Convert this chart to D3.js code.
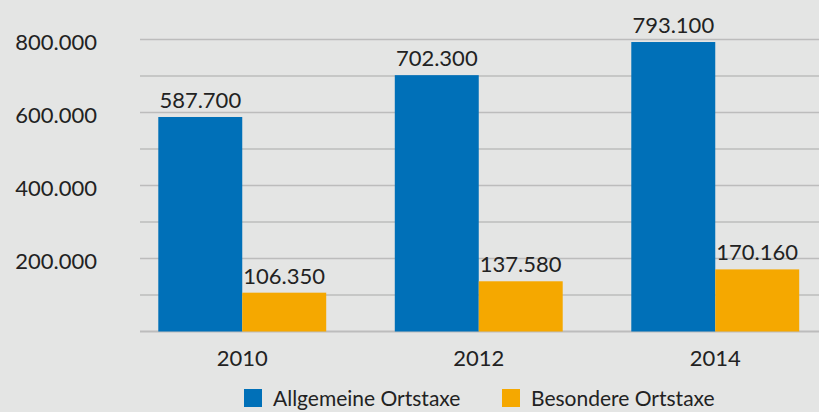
<!DOCTYPE html>
<html>
<head>
<meta charset="utf-8">
<script src="https://cdn.jsdelivr.net/npm/d3@7"></script>
<style>
  body { margin: 0; background: #e4e5e4; }
  svg { display: block; font-family: Lato, "Open Sans", sans-serif; }
</style>
</head>
<body>
<div id="chart"></div>
<script>
// data
const years = ["2010", "2012", "2014"];
const seriesNames = ["Allgemeine Ortstaxe", "Besondere Ortstaxe"];
const allgemeine = [587700, 702300, 793100];
const besondere = [106350, 137580, 170160];
const yTicks = [200000, 400000, 600000, 800000];
const gridTicks = [0, 100000, 200000, 300000, 400000, 500000, 600000, 700000, 800000];

const width = 819, height = 412;
const colorBlue = "#0070b8", colorOrange = "#f5a800";

const de = d3.formatLocale({ decimal: ",", thousands: ".", grouping: [3], currency: ["", " €"] });
const fmt = de.format(",d");

const svg = d3.select("#chart").append("svg")
  .attr("width", width)
  .attr("height", height);

svg.append("rect").attr("width", width).attr("height", height).attr("fill", "#e4e5e4");

const x = d3.scaleBand()
  .domain(years)
  .range([124, 833.5])
  .paddingInner(0.29)
  .paddingOuter(0.145);

const x1 = d3.scaleBand()
  .domain(seriesNames)
  .range([0, x.bandwidth()]);

const y = d3.scaleLinear()
  .domain([0, 800000])
  .range([331.5, 39.5]);

const color = d3.scaleOrdinal().domain(seriesNames).range([colorBlue, colorOrange]);

// grid lines
svg.append("g")
  .selectAll("line")
  .data(gridTicks)
  .enter().append("line")
  .attr("x1", 140)
  .attr("x2", width)
  .attr("y1", d => y(d))
  .attr("y2", d => y(d))
  .attr("stroke", "#bcbcbc")
  .attr("stroke-width", d => d === 0 ? 2 : 1.5);

// y labels
svg.append("g")
  .selectAll("text")
  .data(yTicks)
  .enter().append("text")
  .attr("x", 97)
  .attr("y", d => y(d) + 10)
  .attr("text-anchor", "end")
  .attr("font-size", 22)
  .attr("fill", "#222")
  .text(d => fmt(d));

// bars
const rows = years.map((yr, i) => ({
  year: yr,
  values: [
    { key: seriesNames[0], value: allgemeine[i] },
    { key: seriesNames[1], value: besondere[i] }
  ]
}));

const groups = svg.append("g")
  .selectAll("g")
  .data(rows)
  .enter().append("g")
  .attr("transform", d => `translate(${x(d.year)},0)`);

groups.selectAll("rect")
  .data(d => d.values)
  .enter().append("rect")
  .attr("x", d => x1(d.key))
  .attr("width", x1.bandwidth())
  .attr("y", d => y(d.value))
  .attr("height", d => y(0) - y(d.value))
  .attr("fill", d => color(d.key));

groups.selectAll("text")
  .data(d => d.values)
  .enter().append("text")
  .attr("x", d => x1(d.key) + x1.bandwidth() / 2)
  .attr("y", d => y(d.value) - 9)
  .attr("text-anchor", "middle")
  .attr("font-size", 22)
  .attr("fill", "#222")
  .text(d => fmt(d.value));

// category labels
svg.append("g")
  .selectAll("text")
  .data(years)
  .enter().append("text")
  .attr("x", d => x(d) + x.bandwidth() / 2)
  .attr("y", 366)
  .attr("text-anchor", "middle")
  .attr("font-size", 22)
  .attr("fill", "#222")
  .text(d => d);

// legend
const legendX = [244, 502];
const legend = svg.append("g")
  .selectAll("g")
  .data(seriesNames)
  .enter().append("g")
  .attr("transform", (d, i) => `translate(${legendX[i]},389)`);

legend.append("rect")
  .attr("width", 18)
  .attr("height", 18)
  .attr("fill", d => color(d));

legend.append("text")
  .attr("x", 29)
  .attr("y", 17)
  .attr("font-size", 21)
  .attr("fill", "#222")
  .text(d => d);
</script>
</body>
</html>
